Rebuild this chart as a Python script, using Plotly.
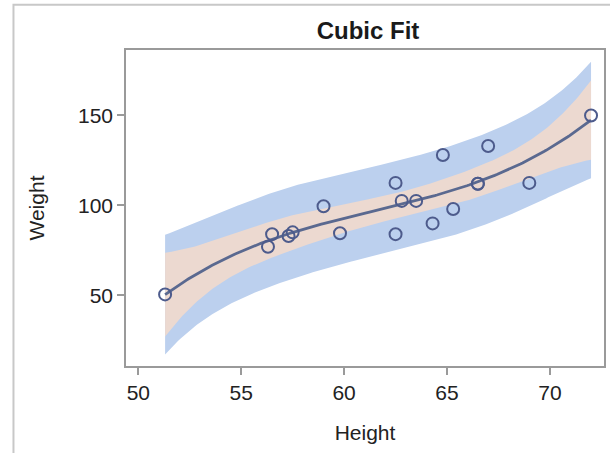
import numpy as np
import plotly.graph_objects as go

# SASHELP.CLASS heights and weights
height = [69.0, 56.5, 65.3, 62.8, 63.5, 57.3, 59.8, 62.5, 62.5, 59.0,
          51.3, 64.3, 56.3, 66.5, 72.0, 64.8, 67.0, 57.5, 66.5]
weight = [112.5, 84.0, 98.0, 102.5, 102.5, 83.0, 84.5, 112.5, 84.0, 99.5,
          50.5, 90.0, 77.0, 112.0, 150.0, 128.0, 133.0, 85.0, 112.0]
x_ticks = [50, 55, 60, 65, 70]
y_ticks = [50, 100, 150]

# Cubic regression with confidence (CLM) and prediction (CLI) limits
x = np.array(height)
y = np.array(weight)
X = np.vander(x, 4)
beta, *_ = np.linalg.lstsq(X, y, rcond=None)
n, p = X.shape
resid = y - X @ beta
s2 = resid @ resid / (n - p)
XtX_inv = np.linalg.inv(X.T @ X)
t_crit = 2.131449545559323  # t(0.975, 15)
xg = np.linspace(x.min(), x.max(), 200)
Xg = np.vander(xg, 4)
fit = Xg @ beta
h = np.einsum('ij,jk,ik->i', Xg, XtX_inv, Xg)
clm = t_crit * np.sqrt(s2 * h)
cli = t_crit * np.sqrt(s2 * (1 + h))

band_blue = "#bcd0ee"
band_beige = "#ecd9d0"
dark = "#4d5b8c"

fig = go.Figure()
fig.add_trace(go.Scatter(x=np.concatenate([xg, xg[::-1]]),
                         y=np.concatenate([fit - cli, (fit + cli)[::-1]]),
                         fill="toself", fillcolor=band_blue, line=dict(width=0),
                         mode="lines", hoverinfo="skip", showlegend=False))
fig.add_trace(go.Scatter(x=np.concatenate([xg, xg[::-1]]),
                         y=np.concatenate([fit - clm, (fit + clm)[::-1]]),
                         fill="toself", fillcolor=band_beige, line=dict(width=0),
                         mode="lines", hoverinfo="skip", showlegend=False))
fig.add_trace(go.Scatter(x=xg, y=fit, mode="lines",
                         line=dict(color="#5a6990", width=2.8), showlegend=False))
fig.add_trace(go.Scatter(x=height, y=weight, mode="markers",
                         marker=dict(symbol="circle-open", size=12,
                                     color=dark, line=dict(width=2, color=dark)),
                         showlegend=False))

fig.update_layout(
    width=610, height=453,
    margin=dict(l=126, r=4, t=50, b=87),
    paper_bgcolor="white", plot_bgcolor="white",
    font=dict(family="Liberation Sans, Arial, sans-serif", color="#222222"),
    title=dict(text="<b>Cubic Fit</b>", x=368 / 610,
               xanchor="center", y=1 - 31 / 453, yanchor="middle",
               font=dict(size=24, color="#1a1a1a")),
    showlegend=False,
    shapes=[dict(type="rect", xref="paper", yref="paper",
                 x0=-0.2354, x1=1.2, y0=-0.6, y1=1.143,
                 line=dict(color="#c8c8c8", width=2), layer="below")],
)
fig.update_xaxes(range=[49.4, 72.63], tickvals=x_ticks,
                 showline=True, linecolor="#9a9a9a", linewidth=1.5, mirror=True,
                 ticks="outside", ticklen=7, tickcolor="#9a9a9a", tickwidth=1.5,
                 showgrid=False, zeroline=False,
                 tickfont=dict(size=21, color="#222222"),
                 title=dict(text="Height", font=dict(size=21, color="#222222"), standoff=22))
fig.update_yaxes(range=[10.7, 186.4], tickvals=y_ticks,
                 showline=True, linecolor="#9a9a9a", linewidth=1.5, mirror=True,
                 ticks="outside", ticklen=7, tickcolor="#9a9a9a", tickwidth=1.5,
                 showgrid=False, zeroline=False,
                 tickfont=dict(size=21, color="#222222"),
                 title=dict(text="Weight", font=dict(size=21, color="#222222"), standoff=28))

fig.write_html("out.html")
